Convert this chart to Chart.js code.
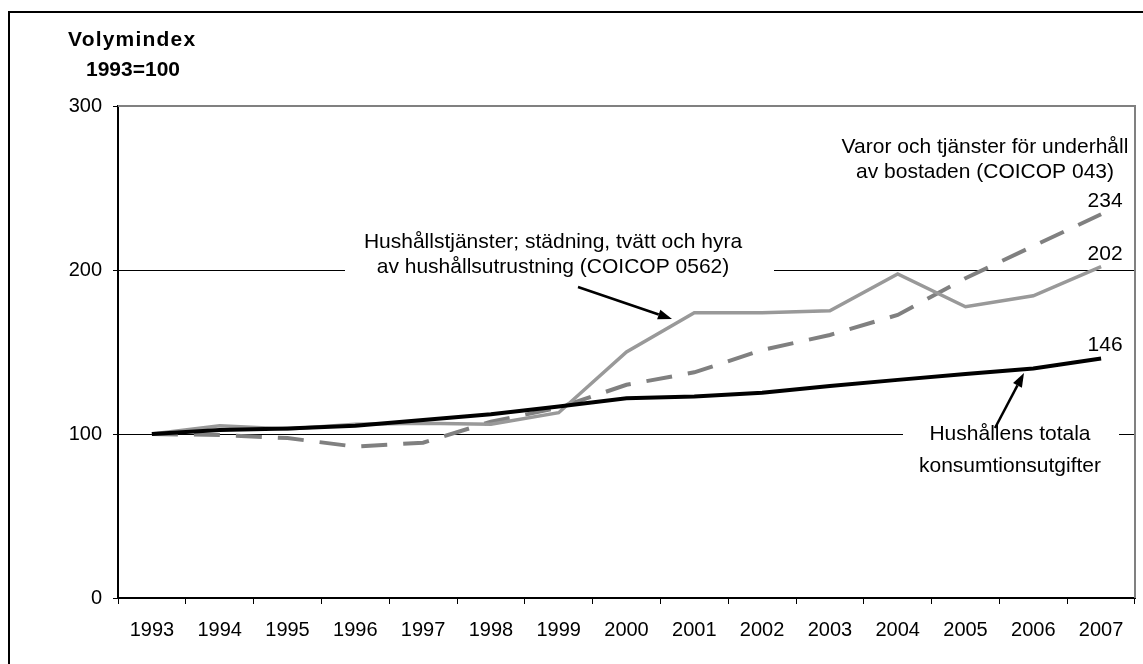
<!DOCTYPE html>
<html>
<head>
<meta charset="utf-8">
<script src="https://cdn.jsdelivr.net/npm/chart.js@4.4.0/dist/chart.umd.min.js"></script>
<style>
  html, body { margin: 0; padding: 0; background: #fff; }
  #wrap { width: 1143px; height: 664px; }
</style>
</head>
<body>
<div id="wrap"><canvas id="chart" width="1143" height="664"></canvas></div>
<script>
const years = ['1993', '1994', '1995', '1996', '1997', '1998', '1999', '2000',
               '2001', '2002', '2003', '2004', '2005', '2006', '2007'];
// Hushållens totala konsumtionsutgifter
const totalaKonsumtion = [100, 102.4, 103.4, 105, 108.5, 112, 116.7, 121.8, 122.8, 125.2, 129.3, 133, 136.6, 140, 146];
// Hushållstjänster (COICOP 0562)
const hushallstjanster = [100, 105, 103, 106, 106.5, 106, 113, 150, 174, 174, 175.2, 197.6, 177.6, 184.3, 202];
// Varor och tjänster för underhåll av bostaden (COICOP 043)
const underhallBostad = [100, 99.4, 97.5, 92.3, 94.7, 107.5, 116, 130, 137.6, 151.2, 160.4, 172.6, 195, 214.6, 234];
const yTicks = [0, 100, 200, 300];

const FONT = "'Liberation Sans', Arial, sans-serif";

// text boxes on the chart (pixel layout)
const notes = [
  { lines: ['Hushållstjänster; städning, tvätt och hyra', 'av hushållsutrustning (COICOP 0562)'],
    x: 553, y: [248, 273], box: [345, 226, 429, 64],
    arrow: [578, 287, 672, 319] },
  { lines: ['Varor och tjänster för underhåll', 'av bostaden (COICOP 043)'],
    x: 985, y: [153, 178], box: null, arrow: null },
  { lines: ['Hushållens totala', 'konsumtionsutgifter'],
    x: 1010, y: [440, 472], box: [903, 418, 216, 64],
    arrow: [995, 428, 1024, 373] }
];

function drawArrow(ctx, x1, y1, x2, y2) {
  const ang = Math.atan2(y2 - y1, x2 - x1);
  const len = 14, half = 5;
  const bx = x2 - len * Math.cos(ang), by = y2 - len * Math.sin(ang);
  ctx.strokeStyle = '#000';
  ctx.lineWidth = 2.5;
  ctx.beginPath();
  ctx.moveTo(x1, y1);
  ctx.lineTo(bx, by);
  ctx.stroke();
  ctx.fillStyle = '#000';
  ctx.beginPath();
  ctx.moveTo(x2, y2);
  ctx.lineTo(bx + half * Math.sin(ang), by - half * Math.cos(ang));
  ctx.lineTo(bx - half * Math.sin(ang), by + half * Math.cos(ang));
  ctx.closePath();
  ctx.fill();
}

const extras = {
  id: 'extras',
  beforeDraw(chart) {
    const ctx = chart.ctx;
    ctx.save();
    ctx.fillStyle = '#fff';
    ctx.fillRect(0, 0, chart.width, chart.height);
    // outer frame
    ctx.strokeStyle = '#000';
    ctx.lineWidth = 2;
    ctx.strokeRect(9, 12, 1200, 700);
    // axis title
    ctx.fillStyle = '#000';
    ctx.font = 'bold 21px ' + FONT;
    ctx.textBaseline = 'middle';
    ctx.textAlign = 'left';
    ctx.letterSpacing = '1.2px';
    ctx.fillText('Volymindex', 68, 40);
    ctx.letterSpacing = '0px';
    ctx.fillText('1993=100', 86, 70);
    ctx.restore();
  },
  beforeDatasetsDraw(chart) {
    const { ctx, chartArea: a } = chart;
    ctx.save();
    ctx.fillStyle = '#fff';
    notes.forEach(n => { if (n.box) ctx.fillRect(n.box[0], n.box[1], n.box[2], n.box[3]); });
    ctx.strokeStyle = '#808080';
    ctx.lineWidth = 2;
    ctx.beginPath();
    ctx.moveTo(a.left, a.top);
    ctx.lineTo(a.right, a.top);
    ctx.lineTo(a.right, a.bottom);
    ctx.stroke();
    ctx.restore();
  },
  afterDatasetsDraw(chart) {
    const ctx = chart.ctx;
    ctx.save();
    ctx.fillStyle = '#000';
    ctx.font = '21px ' + FONT;
    ctx.textAlign = 'center';
    ctx.textBaseline = 'alphabetic';
    notes.forEach(n => {
      n.lines.forEach((t, i) => ctx.fillText(t, n.x, n.y[i]));
    });
    notes.forEach(n => { if (n.arrow) drawArrow(ctx, ...n.arrow); });
    // end values
    ctx.fillStyle = '#000';
    ctx.font = '21px ' + FONT;
    ctx.textBaseline = 'middle';
    chart.data.datasets.forEach((ds, i) => {
      const meta = chart.getDatasetMeta(i);
      const last = meta.data[meta.data.length - 1];
      ctx.fillText(String(Math.round(ds.data[ds.data.length - 1])), last.x + 4, last.y - 13);
    });
    ctx.restore();
  }
};

new Chart(document.getElementById('chart'), {
  type: 'line',
  data: {
    labels: years,
    datasets: [
      { label: 'Hushållens totala konsumtionsutgifter', data: totalaKonsumtion,
        borderColor: '#000', borderWidth: 4, pointRadius: 0, tension: 0 },
      { label: 'Hushållstjänster (COICOP 0562)', data: hushallstjanster,
        borderColor: '#999999', borderWidth: 3.5, pointRadius: 0, tension: 0 },
      { label: 'Varor och tjänster för underhåll av bostaden (COICOP 043)', data: underhallBostad,
        borderColor: '#808080', borderWidth: 4, borderDash: [26, 16], pointRadius: 0, tension: 0 }
    ]
  },
  options: {
    responsive: false,
    animation: false,
    layout: { padding: { top: 106, right: 8, left: 0, bottom: 0 } },
    plugins: { legend: { display: false }, tooltip: { enabled: false } },
    scales: {
      x: {
        offset: true,
        grid: { offset: true, drawOnChartArea: false, tickLength: 6, tickColor: '#000', tickWidth: 1 },
        border: { color: '#000', width: 2 },
        ticks: { color: '#000', font: { family: FONT, size: 20 }, padding: 14, maxRotation: 0, autoSkip: false },
        afterFit: s => { s.height = 66; }
      },
      y: {
        min: 0, max: 300,
        afterBuildTicks: s => { s.ticks = yTicks.map(v => ({ value: v })); },
        grid: {
          color: c => (c.tick && (c.tick.value === 300 || c.tick.value === 0)) ? 'rgba(0,0,0,0)' : '#000',
          lineWidth: 1, tickLength: 5, tickColor: '#000'
        },
        border: { color: '#000', width: 2 },
        ticks: { color: '#000', font: { family: FONT, size: 20 }, padding: 11 },
        afterFit: s => { s.width = 118; }
      }
    }
  },
  plugins: [extras]
});
</script>
</body>
</html>
